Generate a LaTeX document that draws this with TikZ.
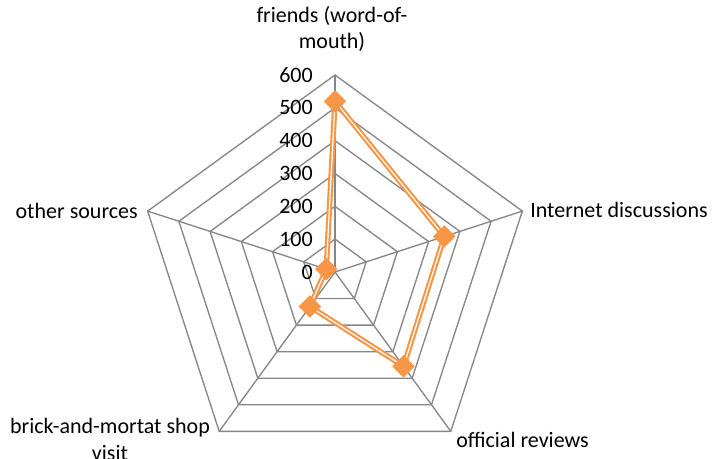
\documentclass[tikz,border=0pt]{standalone}
\usepackage{fontspec}
\setmainfont{Carlito}
\usetikzlibrary{shapes.geometric}
\definecolor{gridgray}{HTML}{868686}
\definecolor{dataorange}{HTML}{F79646}
\tikzset{
  gridline/.style={draw=gridgray, line width=1pt},
  axlabel/.style={font=\fontsize{16.5}{20}\selectfont, inner sep=0pt, align=center},
  ticklabel/.style={font=\fontsize{16.5}{20}\selectfont, inner sep=0pt, anchor=east},
  datamark/.style={diamond, fill=dataorange, draw=none, minimum size=17pt, inner sep=0pt},
  dataline/.style={draw=dataorange, double=white, double distance=0.9pt, line width=1.6pt, line join=round}
}
\begin{document}
\begin{tikzpicture}[x=0.75pt, y=0.75pt]
\useasboundingbox (-335,-187) rectangle (380,272);
\def\u{32.83}
% grid pentagons
\foreach \k in {1,...,6} {
  \draw[gridline] (90:\k*\u) -- (18:\k*\u) -- (-54:\k*\u) -- (-126:\k*\u) -- (162:\k*\u) -- cycle;
}
\coordinate (c) at (0,0);
\foreach \a/\n in {90/va,18/vb,-54/vc,-126/vd,162/ve} {
  \coordinate (\n) at (\a:6*\u);
  \draw[gridline] (c) -- (\n);
}
% tick labels
\foreach \k/\t in {0/0,1/100,2/200,3/300,4/400,5/500,6/600} {
  \node[ticklabel] (t\k) at (-22,\k*\u) {\t};
}
% axis labels
\node[axlabel] (lfriends) at (-3,243) {friends (word-of-\\mouth)};
\node[axlabel, anchor=west] (linternet) at (195,62) {Internet discussions};
\node[axlabel, anchor=west] (lofficial) at (121,-168) {official reviews};
\node[axlabel] (lbrick) at (-225,-167.5) {brick-and-mortat shop\\visit};
\node[axlabel, anchor=east] (lother) at (-197,61) {other sources};
% data
\coordinate (d1) at (90:5.2*\u);
\coordinate (d2) at (18:3.5*\u);
\coordinate (d3) at (-54:3.55*\u);
\coordinate (d4) at (-126:1.3*\u);
\coordinate (d5) at (162:0.28*\u);
\draw[dataline] (d1) -- (d2) -- (d3) -- (d4) -- (d5) -- cycle;
\foreach \i in {1,...,5} {
  \node[datamark] (m\i) at (d\i) {};
}
\end{tikzpicture}
\end{document}
